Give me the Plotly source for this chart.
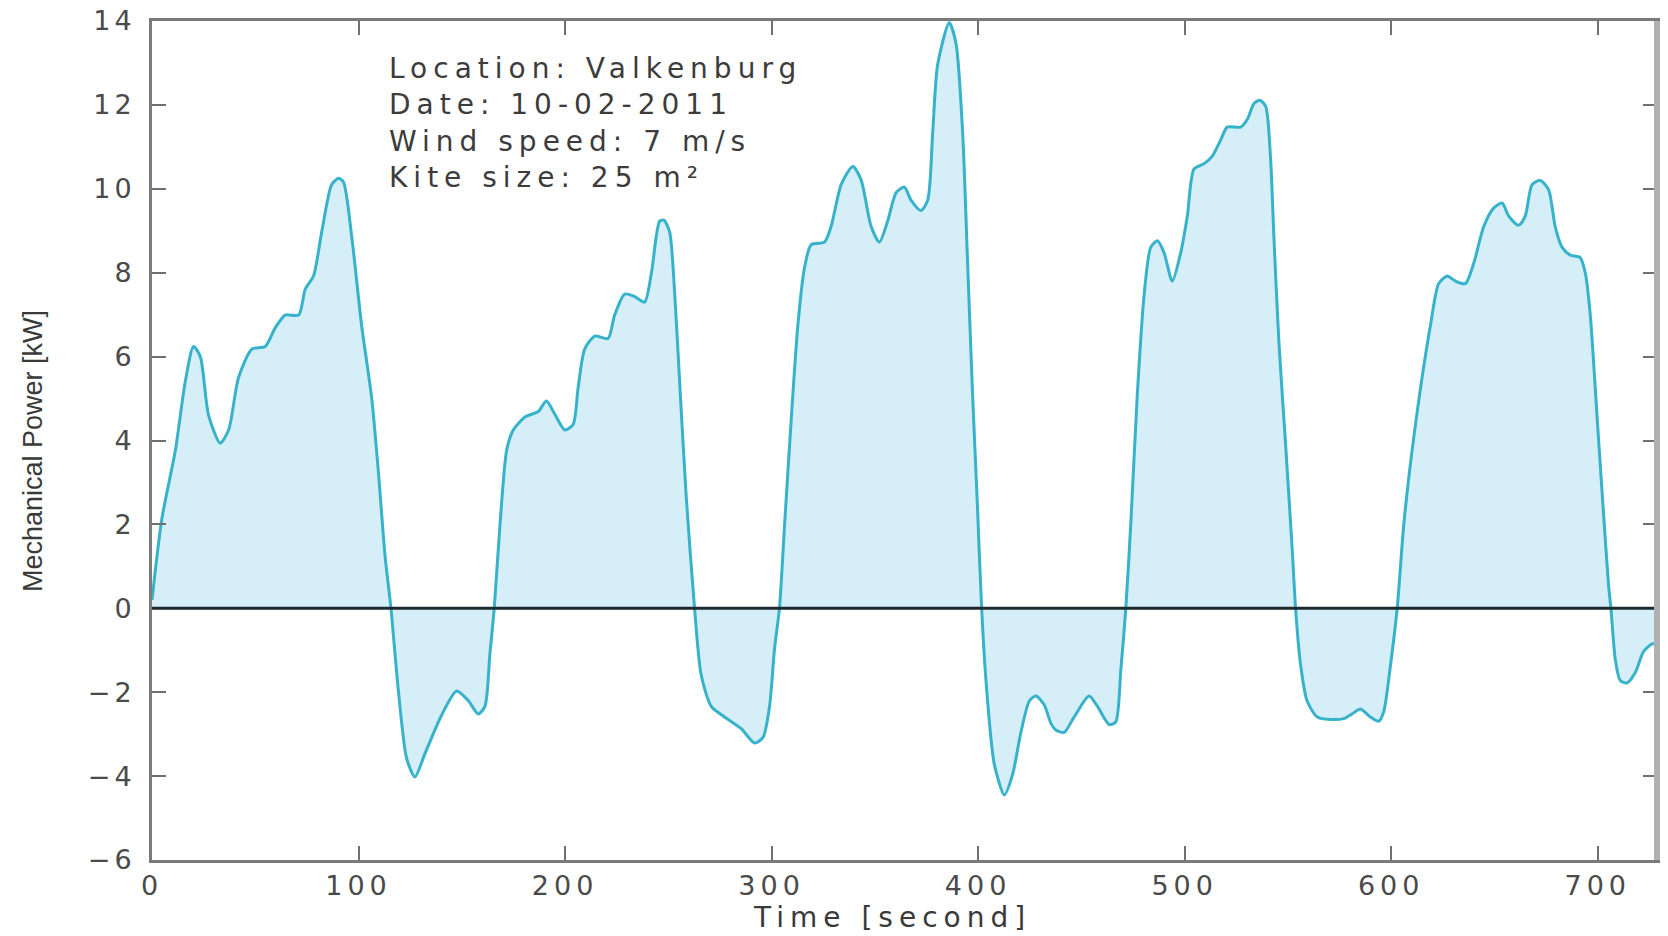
import plotly.graph_objects as go

# Time [s] and mechanical power [kW]
time_s = [0, 4.8, 11.3, 16.1, 20.1, 23.4, 27.4, 33.0, 37.1, 41.9, 48.4, 54.8, 59.6, 64.5, 71.0,
          74.2, 78.2, 82.2, 87.0, 90.3, 92.7, 96.7, 101.5, 106.4, 109.6, 112.8, 115.7, 119.3,
          123.3, 127.3, 132.2, 140.2, 147.5, 153.1, 158.0, 161.2, 163.6, 165.7, 168.5, 171.7,
          174.9, 180.6, 187.0, 191.0, 195.0, 199.9, 203.9, 206.3, 209.5, 214.4, 220.8, 224.0,
          228.9, 233.7, 238.5, 241.8, 245.8, 247.9, 250.6, 253.1, 255.5, 258.7, 262.7, 265.9,
          270.8, 277.2, 285.3, 291.7, 295.8, 299.0, 301.4, 303.8, 306.3, 309.5, 312.7, 315.9,
          319.2, 325.6, 328.8, 333.7, 339.3, 343.3, 348.2, 352.2, 356.2, 360.3, 364.3, 367.5,
          372.3, 375.6, 378.0, 380.4, 386.0, 389.3, 392.5, 394.9, 397.3, 399.7, 401.7, 403.8,
          407.8, 412.7, 416.7, 420.7, 424.8, 428.0, 432.0, 435.3, 437.6, 441.6, 446.5, 453.7,
          457.8, 463.4, 466.6, 469.1, 471.5, 473.9, 477.1, 480.4, 483.6, 486.8, 490.0, 494.0,
          498.1, 501.3, 504.5, 509.4, 513.4, 517.4, 520.6, 527.1, 530.3, 533.5, 536.4, 539.2,
          541.6, 543.2, 545.6, 548.9, 552.1, 553.7, 556.1, 559.3, 564.2, 570.6, 577.0, 581.0,
          585.1, 589.9, 594.0, 596.4, 599.7, 602.9, 606.1, 610.1, 614.2, 619.0, 623.0, 627.1,
          631.1, 635.9, 640.0, 644.8, 649.6, 653.7, 656.9, 661.7, 664.9, 668.2, 672.2, 676.2,
          679.4, 682.7, 686.7, 691.5, 694.0, 696.4, 699.6, 702.8, 705.3, 706.4, 708.5, 710.9,
          714.1, 718.2, 722.2, 726.3, 728.7]
power_kw = [0.2, 2.14, 3.76, 5.4, 6.24, 6.0, 4.6, 3.94, 4.25, 5.5, 6.18, 6.24, 6.68, 6.99, 6.99,
            7.61, 7.92, 8.98, 10.1, 10.25, 10.16, 8.86, 6.74, 5.0, 3.26, 1.27, 0.0, -1.97,
            -3.58, -4.02, -3.46, -2.55, -1.97, -2.2, -2.52, -2.34, -1.09, 0.0, 2.0, 3.76,
            4.25, 4.56, 4.69, 4.94, 4.63, 4.25, 4.38, 5.25, 6.18, 6.49, 6.43, 6.99,
            7.49, 7.43, 7.30, 7.99, 9.23, 9.25, 8.98, 7.49, 5.37, 2.64, 0.0, -1.59,
            -2.34, -2.59, -2.87, -3.21, -3.08, -2.34, -0.97, 0.0, 2.0, 4.5, 6.74, 8.11,
            8.67, 8.73, 9.1, 10.1, 10.53, 10.22, 9.1, 8.73, 9.23, 9.91, 10.04, 9.73,
            9.48, 9.73, 11.34, 12.96, 13.96, 13.46, 11.34, 8.23, 5.12, 2.39, 0.0, -1.72,
            -3.71, -4.45, -3.96, -2.96, -2.21, -2.09, -2.3, -2.75, -2.9, -2.96, -2.59, -2.09,
            -2.34, -2.77, -2.71, -1.47, 0.0, 2.0, 5.12, 7.49, 8.61, 8.76, 8.48, 7.8,
            8.48, 9.35, 10.47, 10.6, 10.78, 11.16, 11.47, 11.47, 11.65, 12.03, 12.11, 11.97,
            10.72, 8.86, 6.37, 3.88, 1.39, 0.0, -1.34, -2.21, -2.59, -2.65, -2.63, -2.52,
            -2.4, -2.59, -2.69, -2.46, -1.34, 0.0, 2.0, 3.76, 5.25, 6.74, 7.74, 7.92,
            7.8, 7.74, 8.23, 9.1, 9.54, 9.66, 9.35, 9.13, 9.35, 10.1, 10.2, 9.98,
            9.1, 8.61, 8.42, 8.36, 7.99, 6.99, 4.63, 2.26, 0.52, 0.0, -1.22, -1.72,
            -1.78, -1.53, -1.03, -0.85, -0.85]

x_ticks = [0, 100, 200, 300, 400, 500, 600, 700]
y_ticks = [-6, -4, -2, 0, 2, 4, 6, 8, 10, 12, 14]
x_title = "Time [second]"
y_title = "Mechanical Power [kW]"
info_lines = ["Location: Valkenburg", "Date: 10-02-2011", "Wind speed: 7 m/s", "Kite size: 25 m²"]


def spaced(s, px):
    return '<span style="letter-spacing:%dpx">%s</span>' % (px, s)


def num_label(v):
    return ("\u2212" + str(abs(v))) if v < 0 else str(v)


x_ticktext = [spaced(num_label(v), 5) for v in x_ticks]
y_ticktext = [spaced(num_label(v), 4) for v in y_ticks]

fig = go.Figure()
fig.add_trace(go.Scatter(
    x=time_s, y=power_kw, mode="lines",
    line=dict(color="#36b2cb", width=3, shape="spline", smoothing=0.7),
    fill="tozeroy", fillcolor="#d6eef7",
    showlegend=False, hoverinfo="skip",
))

axis_font = dict(family="DejaVu Sans", size=27, color="#4a4a4a")

fig.update_layout(
    width=1668, height=936,
    margin=dict(l=152, r=11, t=21, b=76, autoexpand=False),
    paper_bgcolor="white", plot_bgcolor="white",
    showlegend=False,
    xaxis=dict(
        range=[0, 728.7], tickvals=x_ticks, ticktext=x_ticktext, ticks="inside", ticklen=14,
        tickwidth=2, tickcolor="#6f6f6f", showline=True, linecolor="#7a7a7a", linewidth=3,
        mirror="ticks", showgrid=False, zeroline=False, tickfont=axis_font, ticklabelstandoff=0,
        automargin=False,
    ),
    yaxis=dict(
        range=[-6, 14], tickvals=y_ticks, ticktext=y_ticktext, ticks="inside", ticklen=14,
        tickwidth=2, tickcolor="#6f6f6f", showline=True, linecolor="#7a7a7a", linewidth=3,
        mirror="ticks", showgrid=False, zeroline=False, tickfont=axis_font, ticklabelstandoff=8,
        automargin=False,
    ),
    annotations=[
        dict(text="<br>".join(spaced(s, 6) for s in info_lines), xref="paper", yref="paper",
             x=0.156, y=0.966, xanchor="left", yanchor="top", align="left", showarrow=False,
             font=dict(family="DejaVu Sans", size=28, color="#3c3c3c")),
        dict(text=spaced(x_title, 6), xref="paper", yref="paper", x=0.4917, y=-0.068,
             xanchor="center", yanchor="middle", showarrow=False,
             font=dict(family="DejaVu Sans", size=28, color="#3a3a3a")),
        dict(text=y_title, xref="paper", yref="paper", x=-0.079, y=0.4875, textangle=-90,
             xanchor="center", yanchor="middle", showarrow=False,
             font=dict(family="Liberation Sans Narrow, Liberation Sans", size=27, color="#3a3a3a")),
    ],
    shapes=[
        dict(type="line", xref="paper", yref="y", x0=0, x1=1, y0=0, y1=0,
             line=dict(color="#1c2a2e", width=3), layer="above"),
        dict(type="line", xref="paper", yref="paper", x0=1, x1=1, y0=0, y1=1,
             line=dict(color="#b0b0b0", width=6), layer="above"),
    ],
)

fig.write_html("out.html", config={"displayModeBar": False},
               post_script="document.body.style.margin='0';")
